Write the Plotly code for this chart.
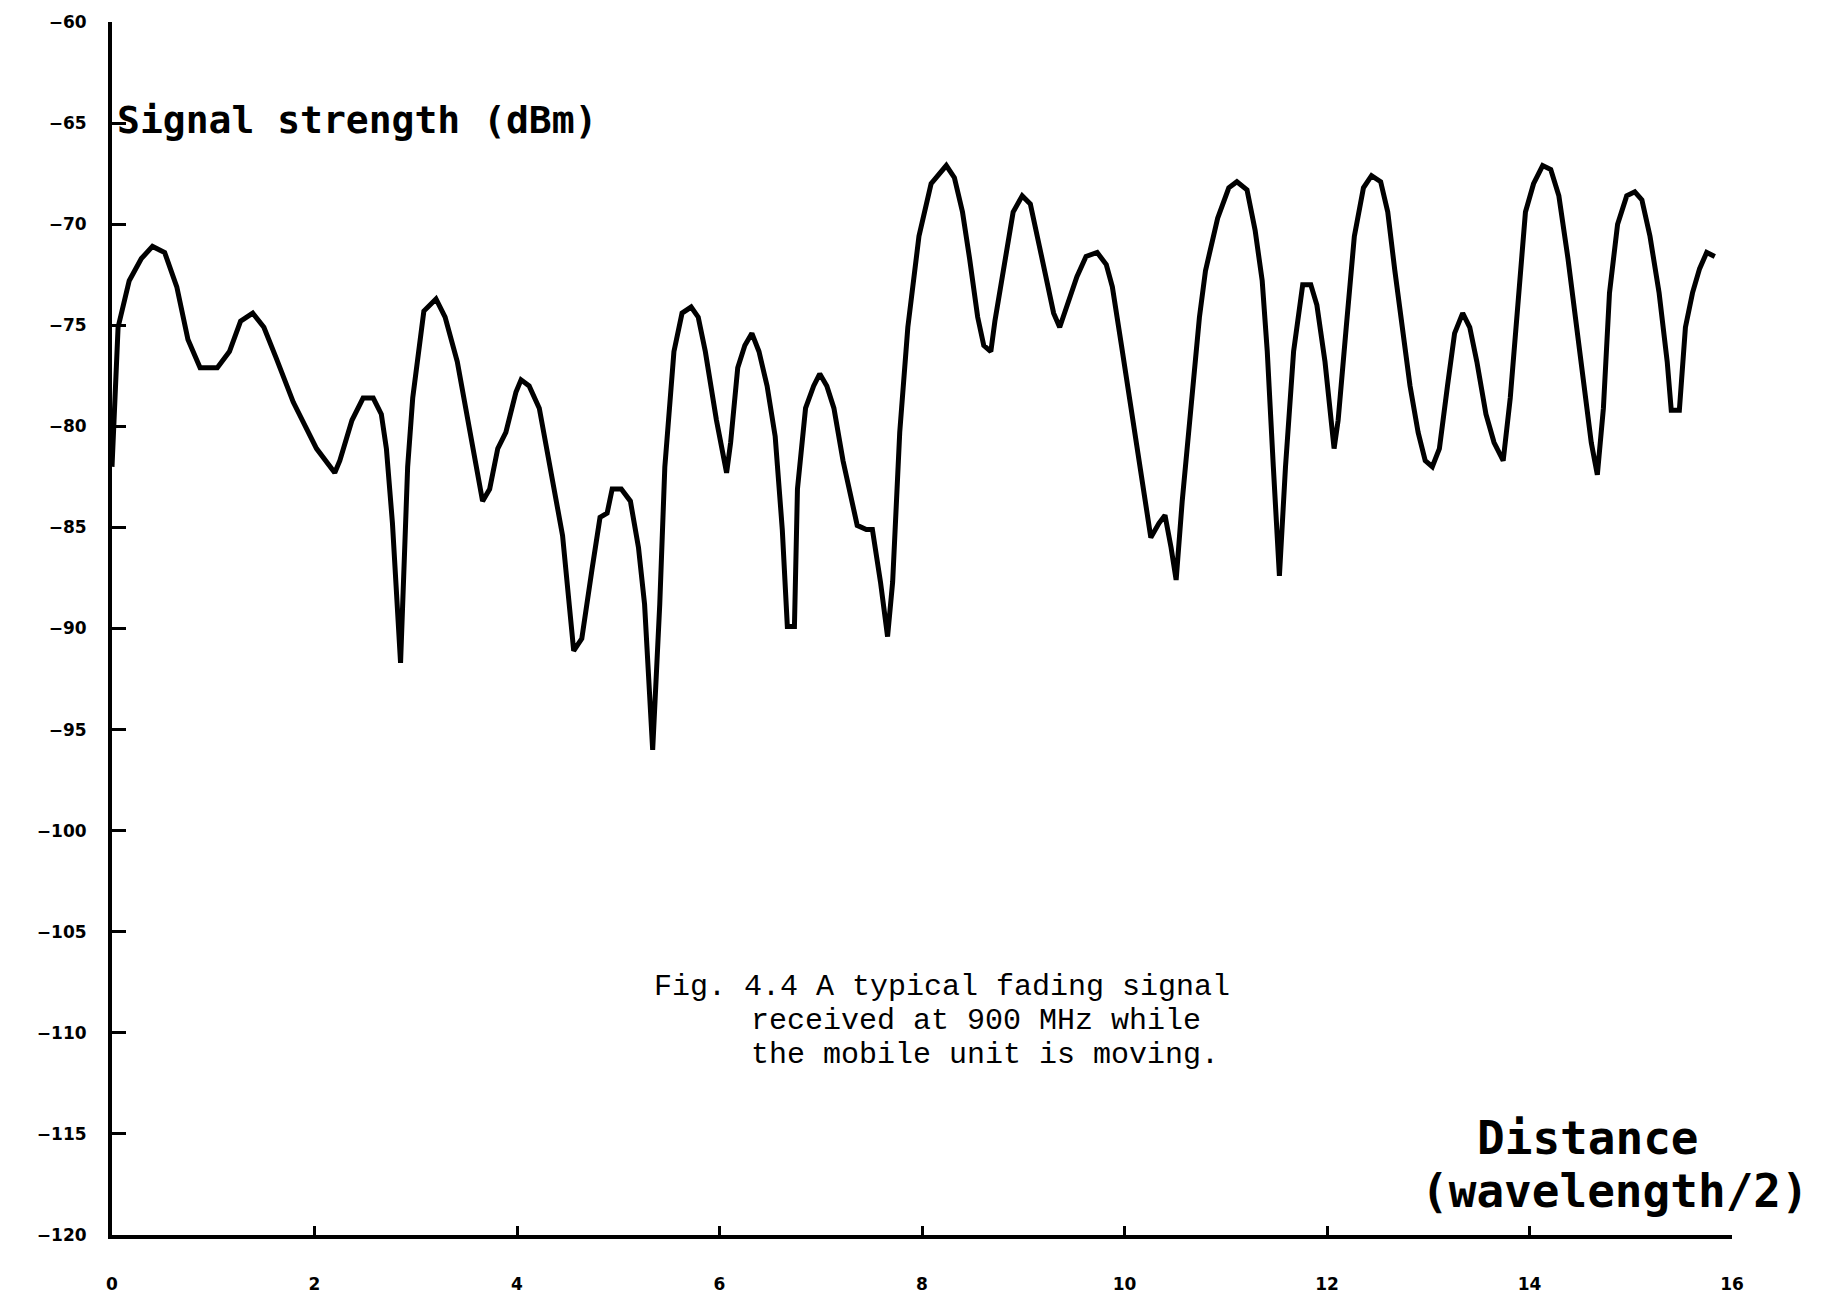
import plotly.graph_objects as go

# Received signal level vs. distance travelled (in half-wavelengths)
distance = [
    0.00, 0.06, 0.17, 0.29, 0.40, 0.52, 0.64, 0.75, 0.87, 1.04, 1.16, 1.27, 1.39, 1.50, 1.62,
    1.79, 1.91, 2.02, 2.20, 2.25, 2.37, 2.48, 2.58, 2.66, 2.71, 2.77, 2.85, 2.92, 2.97, 3.08,
    3.20, 3.29, 3.41, 3.52, 3.66, 3.73, 3.81, 3.89, 3.99, 4.04, 4.12, 4.22, 4.33, 4.45, 4.56,
    4.64, 4.74, 4.82, 4.89, 4.94, 5.03, 5.12, 5.20, 5.26, 5.34, 5.41, 5.46, 5.55, 5.63, 5.72,
    5.79, 5.86, 5.97, 6.07, 6.11, 6.18, 6.25, 6.32, 6.39, 6.47, 6.55, 6.62, 6.67, 6.74, 6.77,
    6.85, 6.93, 6.99, 7.06, 7.13, 7.22, 7.30, 7.36, 7.45, 7.51, 7.59, 7.66, 7.71, 7.78, 7.86,
    7.97, 8.09, 8.24, 8.32, 8.40, 8.47, 8.55, 8.61, 8.68, 8.72, 8.81, 8.90, 8.99, 9.07, 9.16,
    9.24, 9.30, 9.36, 9.44, 9.53, 9.62, 9.73, 9.82, 9.88, 9.97, 10.05, 10.13, 10.20, 10.26, 10.34,
    10.40, 10.46, 10.51, 10.57, 10.66, 10.74, 10.80, 10.92, 11.03, 11.11, 11.21, 11.29, 11.36, 11.41, 11.47,
    11.53, 11.59, 11.67, 11.76, 11.84, 11.90, 11.98, 12.07, 12.11, 12.19, 12.27, 12.36, 12.44, 12.53, 12.60,
    12.67, 12.74, 12.82, 12.90, 12.97, 13.04, 13.11, 13.19, 13.26, 13.34, 13.41, 13.48, 13.57, 13.65, 13.74,
    13.81, 13.87, 13.96, 14.04, 14.13, 14.21, 14.29, 14.38, 14.47, 14.56, 14.61, 14.67, 14.73, 14.79, 14.87,
    14.96, 15.04, 15.11, 15.19, 15.28, 15.36, 15.40, 15.48, 15.54, 15.61, 15.68, 15.75, 15.83,
]
signal_dbm = [
    -82.0, -75.1, -72.8, -71.7, -71.1, -71.4, -73.1, -75.7, -77.1, -77.1, -76.3, -74.8, -74.4, -75.1, -76.6,
    -78.8, -80.0, -81.1, -82.3, -81.7, -79.7, -78.6, -78.6, -79.4, -81.1, -84.8, -91.7, -82.0, -78.6, -74.3,
    -73.7, -74.6, -76.8, -79.7, -83.7, -83.1, -81.1, -80.3, -78.3, -77.7, -78.0, -79.1, -82.0, -85.4, -91.1,
    -90.5, -87.1, -84.5, -84.3, -83.1, -83.1, -83.7, -86.0, -88.8, -96.0, -88.8, -82.0, -76.3, -74.4, -74.1,
    -74.6, -76.3, -79.7, -82.3, -80.8, -77.1, -76.0, -75.4, -76.3, -78.0, -80.5, -85.1, -89.9, -89.9, -83.1,
    -79.1, -78.0, -77.4, -78.0, -79.1, -81.7, -83.7, -84.9, -85.1, -85.1, -87.7, -90.4, -87.7, -80.3, -75.1,
    -70.6, -68.0, -67.1, -67.7, -69.4, -71.7, -74.6, -76.0, -76.3, -74.8, -72.0, -69.4, -68.6, -69.0, -71.1,
    -73.1, -74.4, -75.1, -74.0, -72.6, -71.6, -71.4, -72.0, -73.1, -76.0, -78.6, -81.1, -83.7, -85.5, -84.8,
    -84.4, -86.0, -87.6, -83.7, -79.1, -74.6, -72.3, -69.7, -68.2, -67.9, -68.3, -70.3, -72.8, -76.3, -82.0,
    -87.4, -82.0, -76.3, -73.0, -73.0, -74.0, -76.8, -81.1, -79.7, -75.1, -70.6, -68.2, -67.6, -67.9, -69.4,
    -72.3, -75.1, -78.0, -80.3, -81.7, -82.0, -81.1, -78.0, -75.4, -74.4, -75.1, -76.8, -79.4, -80.8, -81.7,
    -78.6, -74.6, -69.4, -68.0, -67.1, -67.3, -68.6, -71.7, -75.1, -78.6, -80.8, -82.4, -79.1, -73.4, -70.0,
    -68.6, -68.4, -68.8, -70.6, -73.4, -76.8, -79.2, -79.2, -75.1, -73.4, -72.2, -71.4, -71.6,
]

x_ticks = [0, 2, 4, 6, 8, 10, 12, 14, 16]
y_ticks = [-60, -65, -70, -75, -80, -85, -90, -95, -100, -105, -110, -115, -120]

fig = go.Figure()
fig.add_trace(go.Scatter(
    x=distance, y=signal_dbm, mode="lines",
    line=dict(color="black", width=5),
    showlegend=False, hoverinfo="skip",
))

tick_font = dict(family="DejaVu Sans", size=17, color="black", weight="bold")

fig.update_layout(
    width=1835, height=1306,
    margin=dict(l=112, r=103, t=18, b=58),
    paper_bgcolor="white", plot_bgcolor="white",
    xaxis=dict(
        range=[0, 16], tickvals=x_ticks, ticktext=[str(v) for v in x_ticks],
        showgrid=False, zeroline=False,
        showline=True, linecolor="black", linewidth=4,
        ticks="inside", ticklen=9, tickwidth=3, tickcolor="black",
        tickfont=tick_font, ticklabelstandoff=31,
    ),
    yaxis=dict(
        range=[-120, -60], tickvals=y_ticks, ticktext=["\u2212" + str(-v) for v in y_ticks],
        showgrid=False, zeroline=False,
        showline=True, linecolor="black", linewidth=4,
        ticks="inside", ticklen=14, tickwidth=3, tickcolor="black",
        tickfont=tick_font, ticklabelstandoff=18,
    ),
)

plotter_font = "DejaVu Sans Mono"
typewriter_font = "Liberation Mono"

fig.add_annotation(
    text="Signal strength (dBm)", xref="paper", yref="paper",
    x=0.002, y=0.9195, xanchor="left", yanchor="middle", showarrow=False,
    font=dict(family=plotter_font, size=38, color="black", weight="bold"),
)
# Two-line axis caption at lower right
fig.add_annotation(
    text="Distance", xref="paper", yref="paper",
    x=0.911, y=0.0802, xanchor="center", yanchor="middle", showarrow=False,
    font=dict(family=plotter_font, size=46, color="black", weight="bold"),
)
fig.add_annotation(
    text="(wavelength/2)", xref="paper", yref="paper",
    x=0.9278, y=0.0363, xanchor="center", yanchor="middle", showarrow=False,
    font=dict(family=plotter_font, size=46, color="black", weight="bold"),
)

caption_lines = [
    ("Fig. 4.4 A typical fading signal", 0.3333, 0.2045),
    ("received at 900 MHz while", 0.3932, 0.1765),
    ("the mobile unit is moving.", 0.3932, 0.1484),
]
for text, cx, cy in caption_lines:
    fig.add_annotation(
        text=text, xref="paper", yref="paper",
        x=cx, y=cy, xanchor="left", yanchor="middle", showarrow=False,
        font=dict(family=typewriter_font, size=30, color="black"),
    )

fig.write_html("out.html")
